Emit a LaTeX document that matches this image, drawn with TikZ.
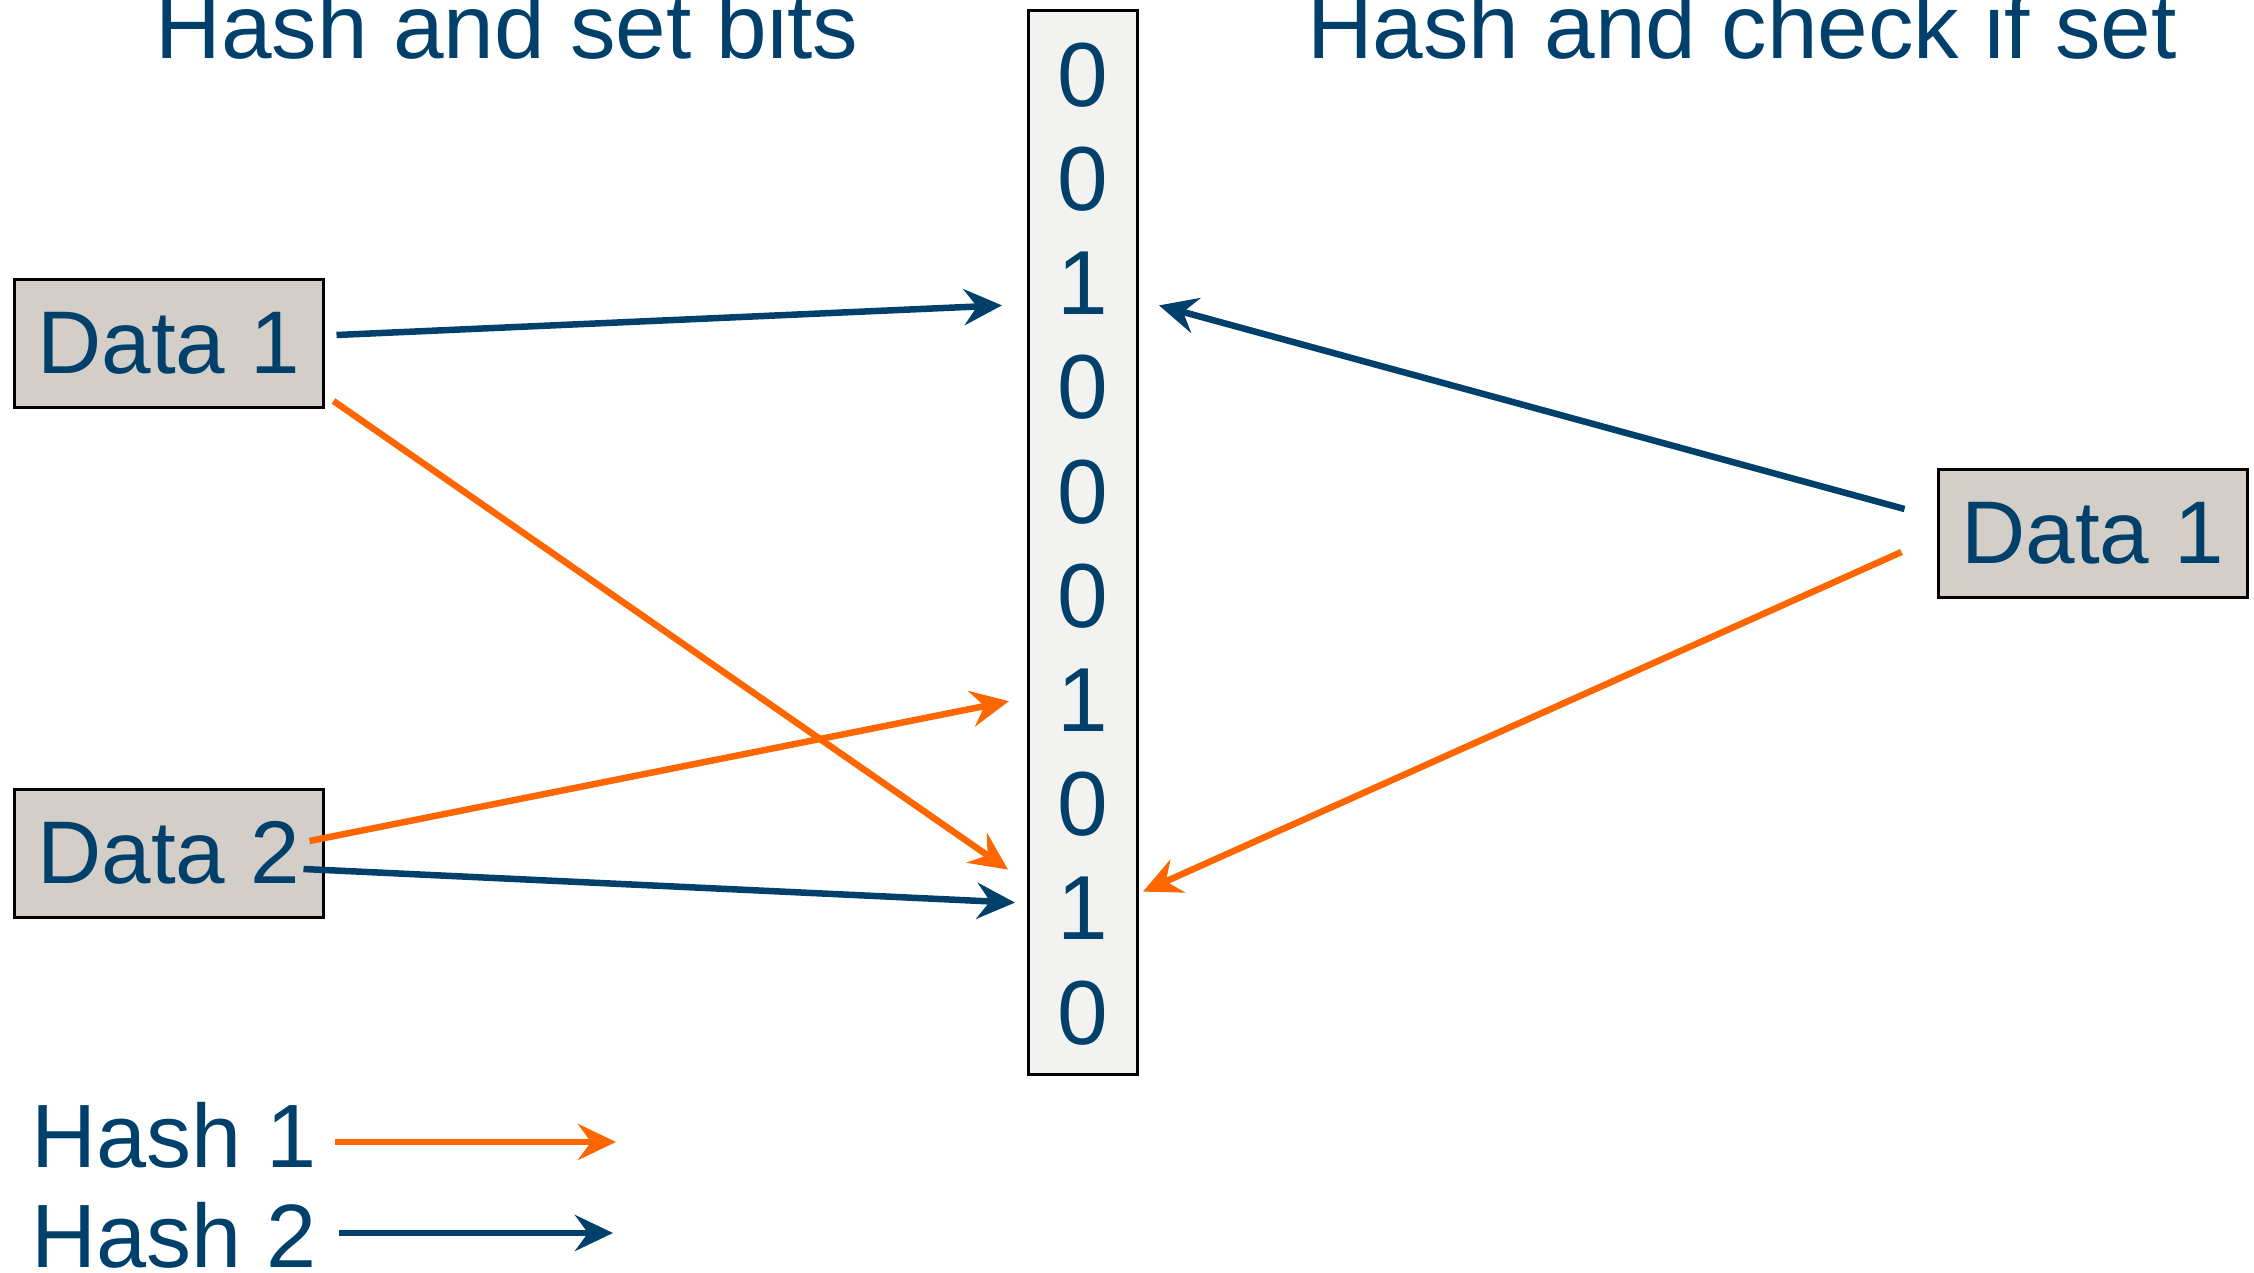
\documentclass[tikz,border=0pt]{standalone}
\usepackage{fontspec}
\setmainfont{Liberation Sans}
\usetikzlibrary{arrows.meta}

\definecolor{navy}{RGB}{0,64,107}
\definecolor{hashorange}{RGB}{255,102,0}
\definecolor{boxtan}{RGB}{212,206,200}
\definecolor{colgray}{RGB}{242,242,240}

\tikzset{
  big/.style={font=\fontsize{91}{110}\selectfont, text=navy, inner sep=0pt},
  databox/.style={font=\fontsize{89}{107}\selectfont, text=navy, inner sep=0pt,
    draw=black, line width=3pt, fill=boxtan,
    minimum width=309pt, minimum height=128pt},
  bitcol/.style={draw=black, line width=3pt, fill=colgray,
    minimum width=109pt, minimum height=1063pt, inner sep=0pt},
  bit/.style={big},
  tip/.style={-{Stealth[length=38pt, width=36pt, inset=13pt]}},
  hashone/.style={tip, draw=hashorange, line width=6.5pt},
  hashtwo/.style={tip, draw=navy, line width=6.5pt},
}

\begin{document}
\begin{tikzpicture}[x=1pt, y=-1pt]
  \useasboundingbox (0,0) rectangle (2254,1273);

  % headings
  \node[big, anchor=base] (titleL) at (507,59) {Hash and set bits};
  \node[big, anchor=base] (titleR) at (1742,59) {Hash and check if set};

  % bit array
  \node[bitcol] (col) at (1082.5,542.5) {};
  \foreach \v [count=\i from 0] in {0,0,1,0,0,0,1,0,1,0}
    \node[bit] (b\i) at (1082.5, 75+104.2*\i) {\v};

  % data items
  \node[databox] (d1) at (168.5,343.5) {Data 1};
  \node[databox] (d2) at (168.5,853) {Data 2};
  \node[databox] (d3) at (2092.5,533) {Data 1};

  % inserting Data 1 and Data 2
  \draw[hashtwo] ([shift={(12,-8.5)}]d1.east) -- ([shift={(-80.5,22)}]b2.center);
  \draw[hashone] ([shift={(9,57.5)}]d1.east) -- ([shift={(-74.5,-39)}]b8.center);
  \draw[hashone] ([shift={(-15,-12)}]d2.east) -- ([shift={(-73.5,1)}]b6.center);
  \draw[hashtwo] ([shift={(-21,16)}]d2.east) -- ([shift={(-67.5,-6)}]b8.center);

  % querying Data 1
  \draw[hashtwo] ([shift={(-32,-24)}]d3.west) -- ([shift={(76.5,22)}]b2.center);
  \draw[hashone] ([shift={(-35,19)}]d3.west) -- ([shift={(60.5,-17)}]b8.center);

  % legend
  \node[big, anchor=base west, font=\fontsize{90}{108}\selectfont] (h1) at (31,1167) {Hash 1};
  \node[big, anchor=base west, font=\fontsize{90}{108}\selectfont] (h2) at (31,1267) {Hash 2};
  \coordinate (h1s) at (335,1142);
  \coordinate (h1e) at (616,1142);
  \coordinate (h2s) at (339,1233);
  \coordinate (h2e) at (613,1233);
  \draw[hashone] (h1s) -- (h1e);
  \draw[hashtwo] (h2s) -- (h2e);
\end{tikzpicture}
\end{document}
